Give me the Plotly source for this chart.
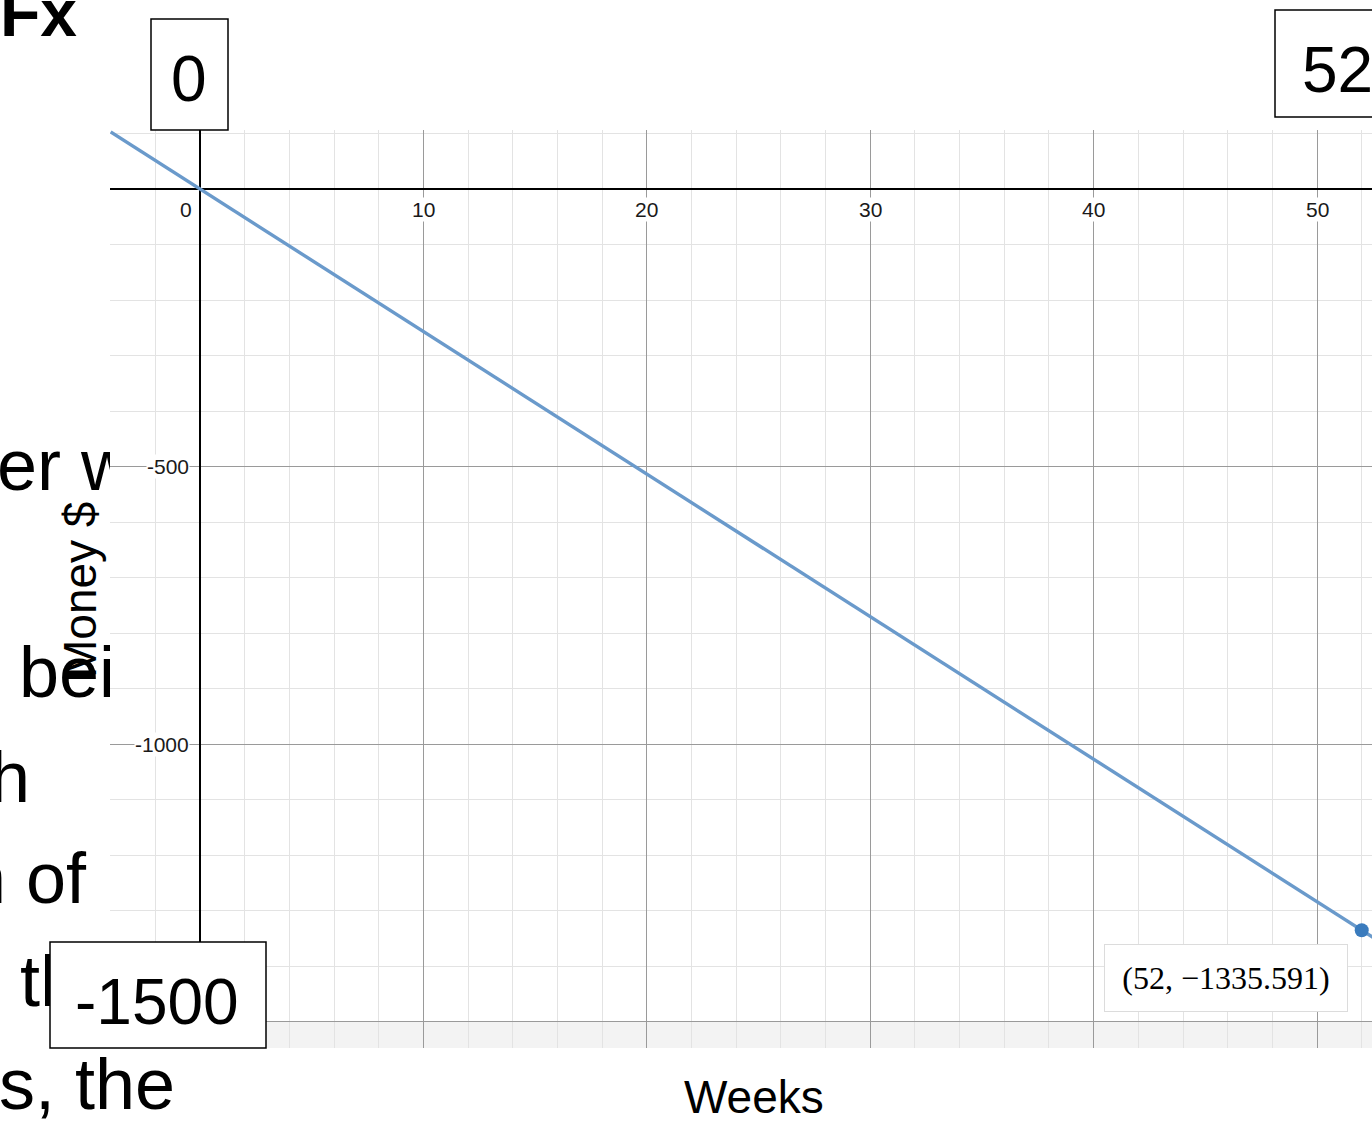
import plotly.graph_objects as go

# ---------------- data ----------------
weeks = [-4, 0, 10, 20, 30, 40, 52, 52.5]
money = [102.7, 0, -256.8, -513.7, -770.5, -1027.4, -1335.591, -1348.4]

point_week = [52]
point_money = [-1335.591]
point_label = "(52, \u22121335.591)"

x_ticks = [0, 10, 20, 30, 40, 50]
y_ticks = [-500, -1000]

x_title = "Weeks"
y_title = "Money $"

# background slide text fragments (text, left px, baseline px)
frag_text = ["er w", "bei", "h", "n of", "th"]
frag_left = [-3, 19, -10, -34, 20]
frag_base = [497, 704, 809, 910, 1013]

# ---------------- layout geometry ----------------
W, H = 1372, 1123
PL, PR, PT, PB = 110, 1372, 130, 1048
X_RANGE = [-4.03, 52.46]
Y_RANGE = [-1547.7, 106.3]


def px(x, y):
    return x / W, (H - y) / H


FONT = "Liberation Sans, Arial, sans-serif"

fig = go.Figure()

# main line
fig.add_trace(go.Scatter(
    x=weeks, y=money, mode="lines",
    line=dict(color="#6a9acb", width=3.4),
    hoverinfo="skip", showlegend=False,
    xaxis="x", yaxis="y",
))
fig.add_trace(go.Scatter(
    x=point_week, y=point_money, mode="markers",
    marker=dict(color="#3a7bbd", size=14),
    hoverinfo="skip", showlegend=False, cliponaxis=False,
    xaxis="x", yaxis="y",
))

# clipped slide text fragments on the left strip
FS = 72
fig.add_trace(go.Scatter(
    x=frag_left, y=[b - 0.35 * FS for b in frag_base],
    mode="text", text=frag_text, textposition="middle right",
    textfont=dict(family=FONT, size=FS, color="black"),
    hoverinfo="skip", showlegend=False,
    xaxis="x2", yaxis="y2",
))

shapes = []
# light strip below -1500
shapes.append(dict(type="rect", xref="x domain", yref="y", x0=0, x1=1,
                   y0=Y_RANGE[0], y1=-1500, fillcolor="#f3f3f3",
                   line=dict(width=0), layer="below"))


def box(x0, y0, x1, y1):
    a0, b0 = px(x0, y0)
    a1, b1 = px(x1, y1)
    shapes.append(dict(type="rect", xref="paper", yref="paper",
                       x0=a0, x1=a1, y0=b1, y1=b0,
                       fillcolor="white", line=dict(color="black", width=1.5),
                       layer="above"))


box(151, 19, 228, 130)
box(1275, 10, 1390, 117)
box(50, 942, 266, 1048)

annotations = []


def ann_px(text, x, y, size, xanchor="center", bold=False, family=FONT, **kw):
    a, b = px(x, y)
    t = f"<b>{text}</b>" if bold else text
    d = dict(text=t, xref="paper", yref="paper", x=a, y=b,
             xanchor=xanchor, yanchor="middle", showarrow=False,
             font=dict(family=family, size=size, color="black"))
    d.update(kw)
    annotations.append(d)


# tick labels
for t in x_ticks:
    annotations.append(dict(
        text=str(t), x=t, y=0, xref="x", yref="y", showarrow=False,
        xanchor="center", yanchor="middle", yshift=-20.5,
        xshift=-14 if t == 0 else 0,
        font=dict(family=FONT, size=21, color="#1a1a1a"),
        bgcolor="white", borderpad=0))
for t in y_ticks:
    annotations.append(dict(
        text=str(t), x=0, y=t, xref="x", yref="y", showarrow=False,
        xanchor="right", yanchor="middle", xshift=-10,
        font=dict(family=FONT, size=21, color="#1a1a1a"),
        bgcolor="white", borderpad=0))

# axis titles
ann_px(x_title, 754, 1097, 46)
ann_px(y_title, 80, 590, 46, textangle=-90)

# slide overlays
ann_px("Fx", -2, 13, 66, xanchor="left", bold=True)
ann_px("0", 189, 79, 64)
ann_px("52", 1300, 70, 64, xanchor="left")
ann_px("-1500", 157, 1002, 64)
ann_px("s, the", -3, 1109 - 0.35 * 72, 72, xanchor="left")

# point label
ann_px(point_label, 1226, 978, 32, family="Liberation Serif, Times New Roman, serif",
       bgcolor="white", bordercolor="#dcdcdc", borderwidth=1, width=240, height=64)

fig.update_layout(
    width=W, height=H, autosize=False,
    margin=dict(l=0, r=0, t=0, b=0, pad=0),
    paper_bgcolor="white", plot_bgcolor="white",
    showlegend=False,
    xaxis=dict(
        domain=[PL / W, 1], range=X_RANGE, anchor="y",
        showticklabels=False, ticks="", showline=False,
        tick0=0, dtick=10, showgrid=True, gridcolor="#9a9a9a", gridwidth=1,
        minor=dict(dtick=2, tick0=0, showgrid=True, gridcolor="#e3e3e3", gridwidth=1),
        zeroline=True, zerolinecolor="black", zerolinewidth=2,
        fixedrange=True,
    ),
    yaxis=dict(
        domain=[(H - PB) / H, (H - PT) / H], range=Y_RANGE, anchor="x",
        showticklabels=False, ticks="", showline=False,
        tick0=0, dtick=500, showgrid=True, gridcolor="#9a9a9a", gridwidth=1,
        minor=dict(dtick=100, tick0=0, showgrid=True, gridcolor="#e3e3e3", gridwidth=1),
        zeroline=True, zerolinecolor="black", zerolinewidth=2,
        fixedrange=True,
    ),
    xaxis2=dict(domain=[0, PL / W], range=[0, PL], anchor="y2", visible=False,
                fixedrange=True),
    yaxis2=dict(domain=[0, 1], range=[H, 0], anchor="x2", visible=False,
                fixedrange=True),
    shapes=shapes,
    annotations=annotations,
)

fig.write_html("out.html", config={"displayModeBar": False, "staticPlot": True},
               post_script="document.body.style.margin='0';document.body.style.overflow='hidden';")
